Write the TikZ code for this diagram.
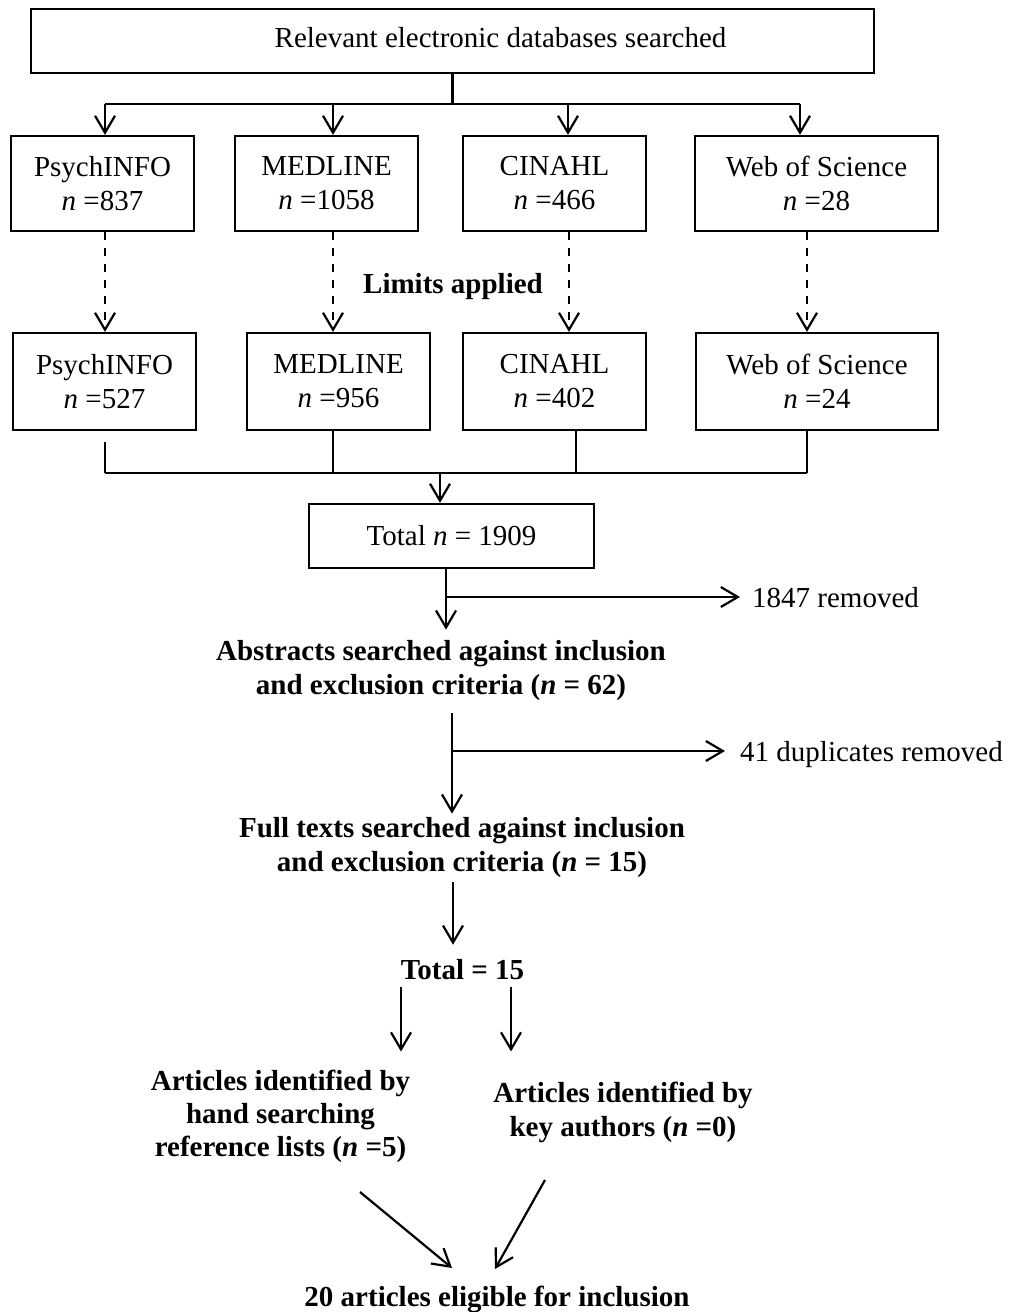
\documentclass[tikz,border=0pt]{standalone}
\usepackage{fontspec}
\setmainfont{Liberation Serif}
\usetikzlibrary{arrows.meta}
\tikzset{
  ln/.style={line width=2.2pt},
  arr/.style={ln,-{Straight Barb[length=17pt,width=20pt]}},
  darr/.style={arr,dash pattern=on 8pt off 8pt},
  dbox/.style={draw,line width=2.2pt,inner sep=0pt,align=center,font=\fontsize{29pt}{34pt}\selectfont},
  txt/.style={inner sep=0pt,align=center,font=\fontsize{29pt}{34pt}\selectfont},
  btxt/.style={inner sep=0pt,align=center,font=\fontsize{29pt}{34pt}\selectfont\bfseries},
}
\begin{document}
\begin{tikzpicture}[x=1pt,y=-1pt]
\useasboundingbox[fill=white] (0,0) rectangle (1013,1312);

% top box
\node[dbox,minimum width=843pt,minimum height=64pt] (top) at (452.5,41) {};
\node[txt,anchor=base] (toptxt) at (500.5,47) {Relevant electronic databases searched};

% row 1
\node[dbox,minimum width=183pt,minimum height=95pt] (p1) at (102.5,183.5) {PsychINFO\\\textit{n} =837};
\node[dbox,minimum width=183pt,minimum height=95pt] (m1) at (326.5,183.5) {MEDLINE\\\textit{n} =1058};
\node[dbox,minimum width=183pt,minimum height=95pt] (c1) at (554.5,183.5) {CINAHL\\\textit{n} =466};
\node[dbox,minimum width=243pt,minimum height=95pt] (w1) at (816.5,183.5) {Web of Science\\\textit{n} =28};

% limits
\node[btxt,anchor=base] (lim) at (453,293) {Limits applied};

% row 2
\node[dbox,minimum width=183pt,minimum height=97pt] (p2) at (104.5,381.5) {PsychINFO\\\textit{n} =527};
\node[dbox,minimum width=183pt,minimum height=97pt] (m2) at (338.5,381.5) {MEDLINE\\\textit{n} =956};
\node[dbox,minimum width=183pt,minimum height=97pt] (c2) at (554.5,381.5) {CINAHL\\\textit{n} =402};
\node[dbox,minimum width=242pt,minimum height=97pt] (w2) at (817,381.5) {Web of Science\\\textit{n} =24};

% total
\node[dbox,minimum width=285pt,minimum height=64pt] (tot) at (451.5,536) {Total \textit{n} = 1909};
\node[txt,anchor=base west] (rem1) at (752,607) {1847 removed};

\node[btxt] (abs) at (441,671) {Abstracts searched against inclusion\\and exclusion criteria (\textit{n} = 62)};
\node[txt,anchor=base west] (rem2) at (740,761) {41 duplicates removed};

\node[btxt] (full) at (462,848) {Full texts searched against inclusion\\and exclusion criteria (\textit{n} = 15)};

\node[btxt,anchor=base] (t15) at (462.5,979) {Total = 15};

\node[btxt] (hand) at (280.5,1116) {Articles identified by\\[-1pt]hand searching\\[-1pt]reference lists (\textit{n} =5)};
\node[btxt] (key) at (623,1112) {Articles identified by\\key authors (\textit{n} =0)};

\node[btxt,anchor=base] (final) at (497,1306) {20 articles eligible for inclusion};

% top connectors
\draw[ln] (top.south) -- ++(0,31) coordinate (j);
\coordinate (hL) at (105,104);
\coordinate (hR) at (800,104);
\draw[ln] (hL) -- (hR);
\coordinate (a1) at ([xshift=2.5pt]p1.north);
\coordinate (a2) at ([xshift=6.5pt]m1.north);
\coordinate (a3) at ([xshift=13.5pt]c1.north);
\coordinate (a4) at ([xshift=-16.5pt]w1.north);
\draw[arr] (a1 |- hL) -- (a1);
\draw[arr] (a2 |- hL) -- (a2);
\draw[arr] (a3 |- hL) -- (a3);
\draw[arr] (a4 |- hL) -- (a4);

% dashed
\draw[darr] ([xshift=2.5pt]p1.south) -- ([xshift=0.5pt]p2.north);
\draw[darr] ([xshift=6.5pt]m1.south) -- ([xshift=-5.5pt]m2.north);
\draw[darr] ([xshift=14.5pt]c1.south) -- ([xshift=14.5pt]c2.north);
\draw[darr] ([xshift=-9.5pt]w1.south) -- ([xshift=-10pt]w2.north);

% merge
\coordinate (mL) at (105,473);
\coordinate (mR) at (807,473);
\coordinate (pb) at ([xshift=0.5pt]p2.south);
\coordinate (mb) at ([xshift=-5.5pt]m2.south);
\coordinate (cb) at ([xshift=21.5pt]c2.south);
\coordinate (wb) at ([xshift=-10pt]w2.south);
\draw[ln,shorten <=11pt] (pb) -- (pb |- mL);
\draw[ln] (mb) -- (mb |- mL);
\draw[ln] (cb) -- (cb |- mL);
\draw[ln] (wb) -- (wb |- mL);
\draw[ln] (mL) -- (mR);
\coordinate (ta) at ([xshift=-11.5pt]tot.north);
\draw[arr] (ta |- mL) -- (ta);

% total -> abstracts
\coordinate (tb) at ([xshift=-5.5pt]tot.south);
\draw[arr,shorten >=11pt] (tb) -- (tb |- abs.north);
\coordinate (b1) at (446,597);
\draw[arr,shorten >=12pt] (b1) -- (b1 -| rem1.west);

% abstracts -> full
\coordinate (xa) at (452,0);
\draw[arr,shorten <=12pt,shorten >=4pt] (abs.south -| xa) -- (full.north -| xa);
\coordinate (b2) at (452,751);
\draw[arr,shorten >=15pt] (b2) -- (b2 -| rem2.west);

% full -> total 15
\coordinate (xf) at (453,0);
\draw[arr,shorten <=4pt,shorten >=14pt] (full.south -| xf) -- (t15.north -| xf);

% total 15 -> two
\coordinate (xL) at (401,0);
\coordinate (xR) at (511,0);
\draw[arr,shorten <=8pt,shorten >=18pt] (t15.south -| xL) -- (hand.north -| xL);
\draw[arr,shorten <=8pt,shorten >=30pt] (t15.south -| xR) -- (key.north -| xR);

% diagonals
\coordinate (d1a) at (360,1192);
\coordinate (d1b) at (452,1268);
\coordinate (d2a) at (545,1180);
\coordinate (d2b) at (495,1269);
\draw[arr] (d1a) -- (d1b);
\draw[arr] (d2a) -- (d2b);
\end{tikzpicture}
\end{document}
